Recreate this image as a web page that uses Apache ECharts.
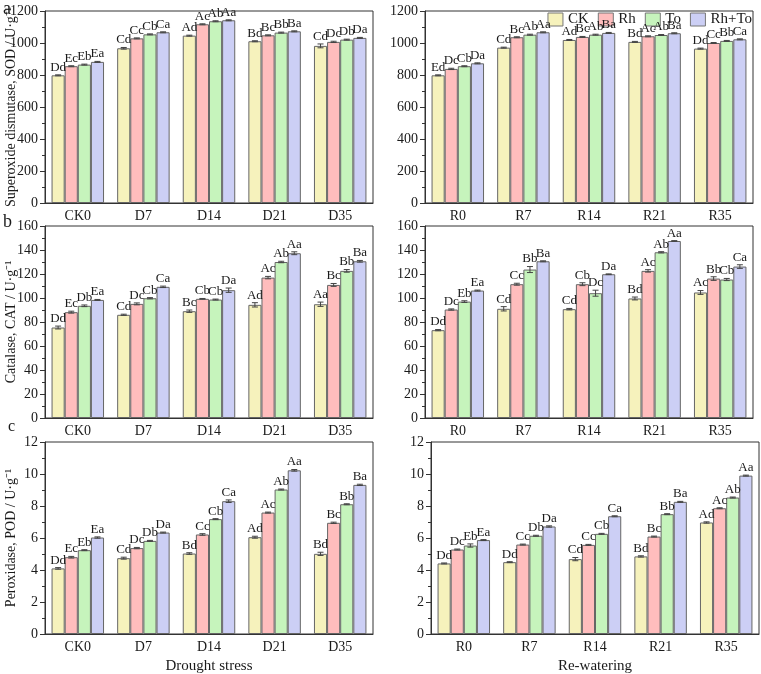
<!DOCTYPE html>
<html>
<head>
<meta charset="utf-8">
<script src="https://cdn.jsdelivr.net/npm/echarts@6/dist/echarts.min.js"></script>
<style>
html, body { margin: 0; padding: 0; background: #fff; }
#chart { width: 761px; height: 674px; }
</style>
</head>
<body>
<div id="chart"></div>
<script>
// treatments and sampling days
const treatments = ['CK', 'Rh', 'To', 'Rh+To'];
const droughtDays = ['CK0', 'D7', 'D14', 'D21', 'D35'];
const rewaterDays = ['R0', 'R7', 'R14', 'R21', 'R35'];
const barColors = ['#F6F2BC', '#FFBDBD', '#C6F4BC', '#CCCFF5'];

// SOD (rows: CK, Rh, To, Rh+To)
const sodDrought = [
  [798, 967, 1046, 1011, 982],
  [855, 1029, 1117, 1048, 1007],
  [865, 1054, 1136, 1065, 1021],
  [882, 1067, 1142, 1073, 1032]
];
const sodDroughtErr = [[3, 5, 3, 3, 12], [3, 3, 3, 3, 4], [3, 3, 3, 3, 3], [3, 3, 3, 3, 3]];
const sodDroughtLetters = [
  ['Dd', 'Cd', 'Ad', 'Bd', 'Cd'],
  ['Ec', 'Cc', 'Ac', 'Bc', 'Dc'],
  ['Eb', 'Cb', 'Ab', 'Bb', 'Db'],
  ['Ea', 'Ca', 'Aa', 'Ba', 'Da']
];
const sodRewater = [
  [798, 971, 1019, 1007, 965],
  [838, 1036, 1038, 1042, 1000],
  [855, 1052, 1052, 1050, 1013],
  [873, 1067, 1063, 1061, 1023]
];
const sodRewaterErr = [[3, 3, 3, 3, 3], [4, 3, 3, 3, 3], [3, 3, 3, 3, 3], [3, 3, 3, 3, 3]];
const sodRewaterLetters = [
  ['Ed', 'Cd', 'Ad', 'Bd', 'Dd'],
  ['Dc', 'Bc', 'Bc', 'Ac', 'Cc'],
  ['Cb', 'Ab', 'Ab', 'Ab', 'Bb'],
  ['Da', 'Aa', 'Ba', 'Ba', 'Ca']
];

// CAT
const catDrought = [
  [75.4, 86.0, 89.0, 94.3, 94.8],
  [88.2, 95.1, 99.3, 117.0, 110.9],
  [93.5, 99.8, 98.7, 130.0, 122.6],
  [98.4, 109.3, 106.5, 137.3, 130.6]
];
const catDroughtErr = [[1.2, 0.5, 1.0, 1.8, 1.8], [0.8, 0.8, 0.3, 1.0, 1.2], [0.7, 0.5, 0.4, 0.6, 1.1], [0.4, 0.6, 1.8, 1.2, 0.7]];
const catDroughtLetters = [
  ['Dd', 'Cd', 'Bc', 'Ad', 'Aa'],
  ['Ec', 'Dc', 'Cb', 'Ac', 'Bc'],
  ['Db', 'Cb', 'Cb', 'Ab', 'Bb'],
  ['Ea', 'Ca', 'Da', 'Aa', 'Ba']
];
const catRewater = [
  [73.2, 91.0, 90.7, 99.6, 104.6],
  [90.4, 111.5, 111.5, 122.6, 116.2],
  [97.0, 123.7, 104.0, 138.1, 115.4],
  [106.2, 130.6, 119.8, 147.5, 126.2]
];
const catRewaterErr = [[0.5, 1.8, 0.6, 1.2, 1.6], [0.5, 0.8, 1.2, 1.0, 1.5], [0.7, 2.5, 2.5, 0.5, 0.9], [0.4, 0.4, 0.3, 0.3, 1.5]];
const catRewaterLetters = [
  ['Dd', 'Cd', 'Cd', 'Bd', 'Ac'],
  ['Dc', 'Cc', 'Cb', 'Ac', 'Bb'],
  ['Eb', 'Bb', 'Dc', 'Ab', 'Cb'],
  ['Ea', 'Ba', 'Da', 'Aa', 'Ca']
];

// POD
const podDrought = [
  [4.10, 4.74, 5.03, 6.05, 5.01],
  [4.80, 5.37, 6.22, 7.59, 6.95],
  [5.24, 5.82, 7.18, 9.03, 8.11],
  [6.03, 6.34, 8.30, 10.23, 9.32]
];
const podDroughtErr = [[0.05, 0.06, 0.05, 0.06, 0.1], [0.05, 0.04, 0.05, 0.03, 0.04], [0.03, 0.03, 0.03, 0.03, 0.03], [0.04, 0.03, 0.08, 0.05, 0.04]];
const podDroughtLetters = [
  ['Dd', 'Cd', 'Bd', 'Ad', 'Bd'],
  ['Ec', 'Dc', 'Cc', 'Ac', 'Bc'],
  ['Eb', 'Db', 'Cb', 'Ab', 'Bb'],
  ['Ea', 'Da', 'Ca', 'Aa', 'Ba']
];
const podRewater = [
  [4.41, 4.49, 4.68, 4.85, 6.97],
  [5.28, 5.59, 5.57, 6.09, 7.86],
  [5.53, 6.14, 6.26, 7.49, 8.53],
  [5.87, 6.72, 7.36, 8.26, 9.90]
];
const podRewaterErr = [[0.03, 0.03, 0.1, 0.04, 0.04], [0.03, 0.03, 0.03, 0.03, 0.03], [0.1, 0.03, 0.03, 0.03, 0.03], [0.03, 0.04, 0.03, 0.03, 0.03]];
const podRewaterLetters = [
  ['Dd', 'Dd', 'Cd', 'Bd', 'Ad'],
  ['Dc', 'Cc', 'Cc', 'Bc', 'Ac'],
  ['Eb', 'Db', 'Cb', 'Bb', 'Ab'],
  ['Ea', 'Da', 'Ca', 'Ba', 'Aa']
];

const FONT = '"Liberation Serif", "Times New Roman", serif';
const TXT = '#1a1a1a';

// one entry per panel
const panels = [
  { left: 45, top: 11, days: droughtDays, vals: sodDrought, err: sodDroughtErr, lab: sodDroughtLetters, max: 1200, step: 200, yname: 'Superoxide dismutase, SOD / U·g⁻¹' },
  { left: 425, top: 11, days: rewaterDays, vals: sodRewater, err: sodRewaterErr, lab: sodRewaterLetters, max: 1200, step: 200 },
  { left: 45, top: 226, days: droughtDays, vals: catDrought, err: catDroughtErr, lab: catDroughtLetters, max: 160, step: 20, yname: 'Catalase, CAT / U·g⁻¹' },
  { left: 425, top: 226, days: rewaterDays, vals: catRewater, err: catRewaterErr, lab: catRewaterLetters, max: 160, step: 20 },
  { left: 45, top: 442, days: droughtDays, vals: podDrought, err: podDroughtErr, lab: podDroughtLetters, max: 12, step: 2, yname: 'Peroxidase, POD / U·g⁻¹', xname: 'Drought stress' },
  { left: 431, top: 442, days: rewaterDays, vals: podRewater, err: podRewaterErr, lab: podRewaterLetters, max: 12, step: 2, xname: 'Re-watering' }
];

function errRender(k, letters) {
  return function (params, api) {
    const c = api.value(0), v = api.value(1), e = api.value(2);
    const band = api.size([1, 0])[0];
    const x = api.coord([c, v])[0] + (k - 1.5) * band * 0.2;
    const yHi = api.coord([c, v + e])[1];
    const yLo = api.coord([c, v - e])[1];
    const st = { stroke: '#444', lineWidth: 1 };
    return {
      type: 'group',
      children: [
        { type: 'line', shape: { x1: x, y1: yHi, x2: x, y2: yLo }, style: st },
        { type: 'line', shape: { x1: x - 3, y1: yHi, x2: x + 3, y2: yHi }, style: st },
        { type: 'line', shape: { x1: x - 3, y1: yLo, x2: x + 3, y2: yLo }, style: st },
        {
          type: 'text', x: x, y: yHi - 1,
          style: { text: letters[params.dataIndex], textAlign: 'center', textVerticalAlign: 'bottom', font: '13px ' + FONT, fill: TXT }
        }
      ]
    };
  };
}

const grid = [], xAxis = [], yAxis = [], series = [];
panels.forEach((p, g) => {
  grid.push({
    left: p.left, top: p.top, width: 328, height: 192,
    show: true, borderColor: '#333', borderWidth: 1, outerBoundsMode: 'none'
  });
  xAxis.push({
    type: 'category', gridIndex: g, data: p.days,
    name: p.xname || '', nameLocation: 'middle', nameGap: 25, nameMoveOverlap: false,
    nameTextStyle: { fontFamily: FONT, fontSize: 15, color: TXT },
    axisLine: { lineStyle: { color: '#333' } },
    axisTick: { alignWithLabel: true, length: 4, lineStyle: { color: '#333' } },
    axisLabel: { fontFamily: FONT, fontSize: 14, color: TXT, margin: 6 }
  });
  yAxis.push({
    type: 'value', gridIndex: g, min: 0, max: p.max, interval: p.step,
    name: p.yname || '', nameLocation: 'middle', nameGap: 27, nameMoveOverlap: false,
    nameTextStyle: { fontFamily: FONT, fontSize: 14, color: TXT },
    axisLine: { show: true, lineStyle: { color: '#333' } },
    axisTick: { show: true, length: 5, lineStyle: { color: '#333' } },
    minorTick: { show: true, splitNumber: 2, length: 3, lineStyle: { color: '#333' } },
    splitLine: { show: false },
    axisLabel: { fontFamily: FONT, fontSize: 14, color: TXT, margin: 7, formatter: v => String(v) }
  });
  treatments.forEach((t, k) => {
    series.push({
      name: t, type: 'bar', xAxisIndex: g, yAxisIndex: g,
      barGap: '0%', barCategoryGap: '20%',
      data: p.vals[k],
      itemStyle: { color: barColors[k], borderColor: '#666', borderWidth: 1 }
    });
    series.push({
      type: 'custom', xAxisIndex: g, yAxisIndex: g, z: 5,
      encode: { x: 0, y: 1 },
      data: p.vals[k].map((v, i) => [i, v, p.err[k][i]]),
      renderItem: errRender(k, p.lab[k]),
      clip: false
    });
  });
});

const myChart = echarts.init(document.getElementById('chart'));
myChart.setOption({
  animation: false,
  backgroundColor: '#fff',
  legend: {
    data: treatments, right: 9, top: 12, padding: 0,
    icon: 'rect', itemWidth: 15, itemHeight: 13, itemGap: 9,
    itemStyle: { borderColor: '#777', borderWidth: 1 },
    textStyle: { fontFamily: FONT, fontSize: 15, color: TXT }
  },
  grid: grid,
  xAxis: xAxis,
  yAxis: yAxis,
  series: series,
  graphic: [
    { type: 'text', left: 3, top: 0, style: { text: 'a', font: '18px ' + FONT, fill: TXT } },
    { type: 'text', left: 3, top: 213, style: { text: 'b', font: '18px ' + FONT, fill: TXT } },
    { type: 'text', left: 8, top: 419, style: { text: 'c', font: '16px ' + FONT, fill: TXT } }
  ]
});
</script>
</body>
</html>
